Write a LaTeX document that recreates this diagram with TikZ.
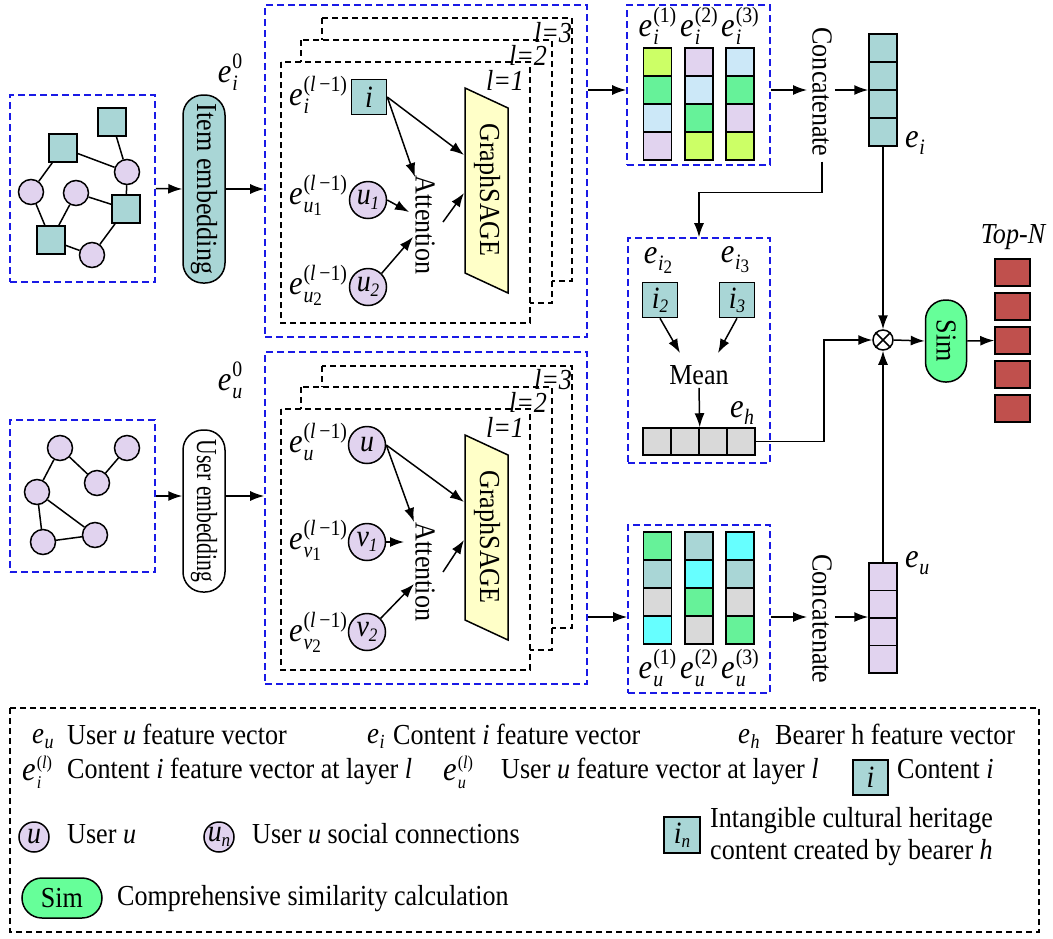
\documentclass[tikz,border=0pt]{standalone}
\usepackage{fontspec}
\setmainfont{Liberation Serif}[FakeStretch=0.9]
\usetikzlibrary{arrows.meta,calc}
\definecolor{tealc}{HTML}{A9D6D6}
\definecolor{lav}{HTML}{E1D3EF}
\definecolor{ygr}{HTML}{CCFF66}
\definecolor{grn}{HTML}{66F299}
\definecolor{lbl}{HTML}{CCE8F8}
\definecolor{cyn}{HTML}{66FFFF}
\definecolor{gry}{HTML}{D9D9D9}
\definecolor{redc}{HTML}{C0504D}
\definecolor{yel}{HTML}{FFFFC8}
\definecolor{simg}{HTML}{66FF99}
\definecolor{bluec}{HTML}{1A1AE6}
\newcommand\fsz[1]{\fontsize{#1}{#1}\selectfont}
\newcommand\elab[2]{\textit{e}\kern1pt\raisebox{-8pt}{\vbox{\baselineskip=22pt\lineskiplimit=-100pt\lineskip=0pt\hbox{\fsz{22}#1}\hbox{\fsz{22}#2}}}}
\newcommand\elabL[2]{\textit{e}\kern1pt\raisebox{-8pt}{\vbox{\baselineskip=20pt\lineskiplimit=-100pt\lineskip=0pt\hbox{\fsz{18}#1}\hbox{\fsz{18}#2}}}}
\newcommand\elabs[1]{\textit{e}\kern0.5pt\raisebox{-7pt}{\fsz{22}#1}}
\newcommand\elabsL[1]{\textit{e}\kern0.5pt\raisebox{-5pt}{\fsz{20}#1}}
\newcommand\lsub[1]{\raisebox{-0.3ex}{\fsz{19}#1}}
\begin{document}
\begin{tikzpicture}[x=1pt,y=-1pt,
 every node/.style={font=\fontsize{29}{35}\selectfont, inner sep=0pt},
 bluebox/.style={draw=bluec, dash pattern=on 7pt off 4pt, line width=1.6pt},
 layerbox/.style={draw=black, fill=white, dash pattern=on 6pt off 4pt, line width=1.5pt},
 arr/.style={-{Latex[length=14pt,width=10pt]}, line width=1.5pt},
 ln/.style={line width=1.5pt},
 sqn/.style={draw, line width=1.5pt, fill=tealc, minimum size=28pt},
 cn/.style={draw, circle, line width=1.5pt, fill=lav, minimum size=25pt},
 cell/.style={draw, line width=1.5pt, minimum width=28pt, minimum height=28pt},
 pill/.style={draw, line width=1.5pt, rounded corners=20pt},
 lab/.style={font=\fontsize{34}{38}\selectfont},
 nodetxt/.style={font=\fontsize{31}{35}\selectfont\itshape},
 lyr/.style={font=\fontsize{29}{33}\selectfont\itshape},
]
\useasboundingbox (0,0) rectangle (1053,938);

% ---------- top-left item graph ----------
\node[bluebox, minimum width=145pt, minimum height=187pt] (gI) at (82.5,188.5) {};
\node[sqn] (s1) at (112,122) {};
\node[sqn] (s2) at (63,148) {};
\node[cn] (c1) at (127,172) {};
\node[cn] (c2) at (31,192) {};
\node[cn] (c3) at (76,193) {};
\node[sqn] (s3) at (126,209) {};
\node[sqn] (s4) at (51,240) {};
\node[cn] (c4) at (92,255) {};
\draw[ln] (s1)--(c1) (s2)--(c1) (s2)--(c2) (c2)--(s4) (c3)--(s4) (c3)--(s3) (c1)--(s3) (s3)--(c4) (s4)--(c4);

\node[pill, fill=tealc, minimum width=188pt, minimum height=42pt, rotate=-90] (item) at (204,189) {Item embedding};
\node[lab] (ei0) at (230,72) {\elab{0}{\textit{i}}};

% ---------- top GraphSAGE block ----------
\node[bluebox, minimum width=322pt, minimum height=332pt] (bigI) at (426,171) {};
\draw[arr] (gI.east) -- (item.south);
\draw[arr] (item.north) -- (bigI.west |- item.north);
\draw[layerbox] (322,18) rectangle (572,281);
\draw[layerbox] (301,40) rectangle (552,303);
\draw[layerbox] (281,62) rectangle (530,323);
\node[lyr] (l3I) at (553,33) {l=3};
\node[lyr] (l2I) at (528,55) {l=2};
\node[lyr] (l1I) at (505,80) {l=1};

\node[lab] (lei) at (318,95) {\elab{(\textit{l}\,−1)}{\textit{i}}};
\node[sqn, minimum size=35pt, nodetxt] (ni) at (369,97) {i};
\node[lab] (leu1) at (318,195) {\elab{(\textit{l}\,−1)}{\textit{u}\lsub{1}}};
\node[cn, minimum size=37pt, nodetxt] (nu1) at (368,200) {u\lsub{1}};
\node[lab] (leu2) at (318,285) {\elab{(\textit{l}\,−1)}{\textit{u}\lsub{2}}};
\node[cn, minimum size=37pt, nodetxt] (nu2) at (368,287) {u\lsub{2}};
\node[rotate=-90] (attI) at (425,225) {Attention};
\draw[ln, fill=yel] (465,88) -- (508,108) -- (508,293) -- (465,273) -- cycle;
\node[rotate=-90] (gsI) at (487,190) {GraphSAGE};
\coordinate (gsI1) at (464,155);
\coordinate (gsI2) at (464,193);
\coordinate (attIt) at (415,177);
\coordinate (attIl1) at (409,212);
\coordinate (attIl2) at (413,237);
\coordinate (attIo) at (443,222);
\draw[arr] (ni.east) -- (gsI1);
\draw[arr] (ni.east) -- (attIt);
\draw[arr] (nu1.east) -- (attIl1);
\draw[arr] (nu2.north east) -- (attIl2);
\draw[arr] (attIo) -- (gsI2);

% ---------- bottom-left user graph ----------
\node[bluebox, minimum width=145pt, minimum height=152pt] (gU) at (82.5,496) {};
\node[cn] (d1) at (60,448) {};
\node[cn] (d2) at (127,448) {};
\node[cn] (d3) at (37,492) {};
\node[cn] (d4) at (97,483) {};
\node[cn] (d5) at (43,542) {};
\node[cn] (d6) at (95,535) {};
\draw[ln] (d1)--(d3) (d1)--(d4) (d4)--(d2) (d3)--(d5) (d3)--(d6) (d5)--(d6);
\node[pill, fill=white, minimum width=162pt, minimum height=42pt, rotate=-90] (user) at (204,511) {\scalebox{0.83}[1]{User embedding}};
\node[lab] (eu0) at (230,380) {\elab{0}{\textit{u}}};

% ---------- bottom GraphSAGE block ----------
\node[bluebox, minimum width=322pt, minimum height=332pt] (bigU) at (426,518) {};
\draw[arr] (gU.east) -- (user.south |- gU.east);
\draw[arr] (user.north |- gU.east) -- (bigU.west |- gU.east);
\draw[layerbox] (322,366) rectangle (572,628);
\draw[layerbox] (301,387) rectangle (552,650);
\draw[layerbox] (281,409) rectangle (530,670);
\node[lyr] (l3U) at (553,380) {l=3};
\node[lyr] (l2U) at (528,402) {l=2};
\node[lyr] (l1U) at (505,427) {l=1};

\node[lab] (leu) at (318,442) {\elab{(\textit{l}\,−1)}{\textit{u}}};
\node[cn, minimum size=37pt, nodetxt] (nu) at (367,445) {u};
\node[lab] (lev1) at (318,540) {\elab{(\textit{l}\,−1)}{\textit{v}\lsub{1}}};
\node[cn, minimum size=37pt, nodetxt] (nv1) at (367,542) {v\lsub{1}};
\node[lab] (lev2) at (318,632) {\elab{(\textit{l}\,−1)}{\textit{v}\lsub{2}}};
\node[cn, minimum size=37pt, nodetxt] (nv2) at (367,632) {v\lsub{2}};
\node[rotate=-90] (attU) at (425,572) {Attention};
\draw[ln, fill=yel] (465,435) -- (508,455) -- (508,640) -- (465,620) -- cycle;
\node[rotate=-90] (gsU) at (487,537) {GraphSAGE};
\coordinate (gsU1) at (464,502);
\coordinate (gsU2) at (464,540);
\coordinate (attUt) at (414,522);
\coordinate (attUl1) at (404,542);
\coordinate (attUl2) at (414,584);
\coordinate (attUo) at (443,572);
\draw[arr] (nu.east) -- (gsU1);
\draw[arr] (nu.east) -- (attUt);
\draw[arr] (nv1.east) -- (attUl1);
\draw[arr] (nv2.north east) -- (attUl2);
\draw[arr] (attUo) -- (gsU2);

% ---------- top layer vectors ----------
\coordinate (rowI) at (0,90);
\node[bluebox, minimum width=143pt, minimum height=160pt] (vI) at (698.5,85) {};
\foreach \c/\x/\cl in {1/657.5/{ygr,grn,lbl,lav},2/699/{lav,lbl,grn,ygr},3/740/{lbl,grn,lav,ygr}}{
  \foreach \f [count=\r] in \cl {\node[cell, fill=\f] (vI\c\r) at (\x,34+28*\r) {};}
  \node[lab] (vIl\c) at (\x,26) {\elab{(\c)}{\textit{i}}};
}
\draw[arr] (bigI.east |- rowI) -- (vI.west |- rowI);
\node[rotate=-90] (cI) at (822,92) {Concatenate};
\draw[arr] (vI.east |- rowI) -- ([xshift=-5pt]cI.south |- rowI);
\foreach \r in {1,...,4}{\node[cell, fill=tealc] (eI\r) at (883,20+28*\r) {};}
\draw[arr] ([xshift=3pt]cI.north |- rowI) -- (eI1.west |- rowI);
\node[lab, anchor=west] (eIl) at (905,143) {\elabs{\textit{i}}};

% ---------- bearer mean block ----------
\node[bluebox, minimum width=142pt, minimum height=225pt] (mB) at (699,350.5) {};
\draw[arr] ([yshift=-5pt]cI.east) -- ++(0,31) -| (mB.north);
\node[lab] (li2) at (658,260) {\elabs{\textit{i}\lsub{2}}};
\node[lab] (li3) at (735,260) {\elabs{\textit{i}\lsub{3}}};
\node[sqn, minimum size=35pt, nodetxt] (ni2) at (660,300) {i\lsub{2}};
\node[sqn, minimum size=35pt, nodetxt] (ni3) at (737,300) {i\lsub{3}};
\node (mean) at (699,375) {Mean};
\coordinate (mA1) at (680,353);
\coordinate (mA2) at (718,353);
\draw[arr] (ni2.south) -- (mA1);
\draw[arr] (ni3.south) -- (mA2);
\foreach \k in {1,...,4}{\node[cell, fill=gry, minimum height=27pt] (h\k) at (629+28*\k,441.5) {};}
\draw[arr] ([yshift=-3pt]mean.south) -- (h2.north east);
\node[lab] (lh) at (742,413) {\elabs{\textit{h}}};

% ---------- fusion ----------
\node[draw, circle, line width=1.5pt, minimum size=20pt] (ot) at (883,340) {};
\draw[ln] (ot.north west) -- (ot.south east) (ot.north east) -- (ot.south west);
\draw[arr] (eI4.south) -- (ot.north);
\draw[arr] (h4.east) -- ++(68,0) |- (ot.west);
\node[pill, fill=simg, minimum width=82pt, minimum height=41pt, rotate=-90] (sim) at (946,341) {Sim};
\draw[arr] (ot.east) -- (sim.south);
\foreach \k in {1,...,5}{\node[draw, line width=1.5pt, fill=redc, minimum width=35pt, minimum height=27pt] (t\k) at (1012.5,238.5+34*\k) {};}
\draw[arr] (sim.north) -- (t3.west);
\node[lyr] (topn) at (1013,237) {Top-N};

% ---------- bottom layer vectors ----------
\coordinate (rowU) at (0,617);
\node[bluebox, minimum width=142pt, minimum height=168pt] (vU) at (699,609) {};
\foreach \c/\x/\cl in {1/657.5/{grn,tealc,gry,cyn},2/699/{tealc,cyn,grn,gry},3/740/{cyn,tealc,gry,grn}}{
  \foreach \f [count=\r] in \cl {\node[cell, fill=\f] (vU\c\r) at (\x,518+28*\r) {};}
  \node[lab] (vUl\c) at (\x,668) {\elab{(\c)}{\textit{u}}};
}
\draw[arr] (bigU.east |- rowU) -- (vU.west |- rowU);
\node[rotate=-90] (cU) at (822,619) {Concatenate};
\draw[arr] (vU.east |- rowU) -- ([xshift=-5pt]cU.south |- rowU);
\foreach \r in {1,...,4}{\node[cell, fill=lav, minimum height=27.5pt] (eU\r) at (883,549.25+27.5*\r) {};}
\draw[arr] ([xshift=3pt]cU.north |- rowU) -- (eU1.west |- rowU);
\node[lab, anchor=west] (eUl) at (905,563) {\elabs{\textit{u}}};
\draw[arr] (eU1.north) -- (ot.south);

% ---------- legend ----------
\draw[dash pattern=on 6pt off 4pt, line width=1.5pt] (10,708) rectangle (1039,932);
\node[anchor=base west, font=\fontsize{30}{34}\selectfont] (g1a) at (32,743) {\elabsL{\textit{u}}};
\node[anchor=base west] (g1b) at (67,744) {User \textit{u} feature vector};
\node[anchor=base west, font=\fontsize{30}{34}\selectfont] (g1c) at (367,743) {\elabsL{\textit{i}}};
\node[anchor=base west] (g1d) at (393,744) {Content \textit{i} feature vector};
\node[anchor=base west, font=\fontsize{30}{34}\selectfont] (g1e) at (738,743) {\elabsL{\textit{h}}};
\node[anchor=base west] (g1f) at (775,744) {Bearer h feature vector};

\node[lab, anchor=base west] (g2a) at (22,780) {\elabL{(\textit{l})}{\textit{i}}};
\node[anchor=base west] (g2b) at (67,778) {Content \textit{i} feature vector at layer \textit{l}};
\node[lab, anchor=base west] (g2c) at (443,780) {\elabL{(\textit{l})}{\textit{u}}};
\node[anchor=base west] (g2d) at (501,778) {User \textit{u} feature vector at layer \textit{l}};
\node[sqn, minimum size=35pt, nodetxt] (g2e) at (870.5,777.5) {i};
\node[anchor=base west] (g2f) at (897,778) {Content \textit{i}};

\node[cn, minimum size=30pt, nodetxt] (g3a) at (34,837) {u};
\node[anchor=base west] (g3b) at (67,843) {User \textit{u}};
\node[cn, minimum size=30pt, nodetxt] (g3c) at (219,837) {u\lsub{n}};
\node[anchor=base west] (g3d) at (252,843) {User \textit{u} social connections};
\node[sqn, minimum size=36pt, nodetxt] (g3e) at (682,835) {i\lsub{n}};
\node[anchor=west, align=left, font=\fontsize{29}{32}\selectfont] (g3f) at (710,837) {Intangible cultural heritage\\content created by bearer \textit{h}};

\node[pill, fill=simg, minimum width=80pt, minimum height=40pt] (g4a) at (62,898) {Sim};
\node[anchor=base west] (g4b) at (117,905) {Comprehensive similarity calculation};
\end{tikzpicture}
\end{document}
